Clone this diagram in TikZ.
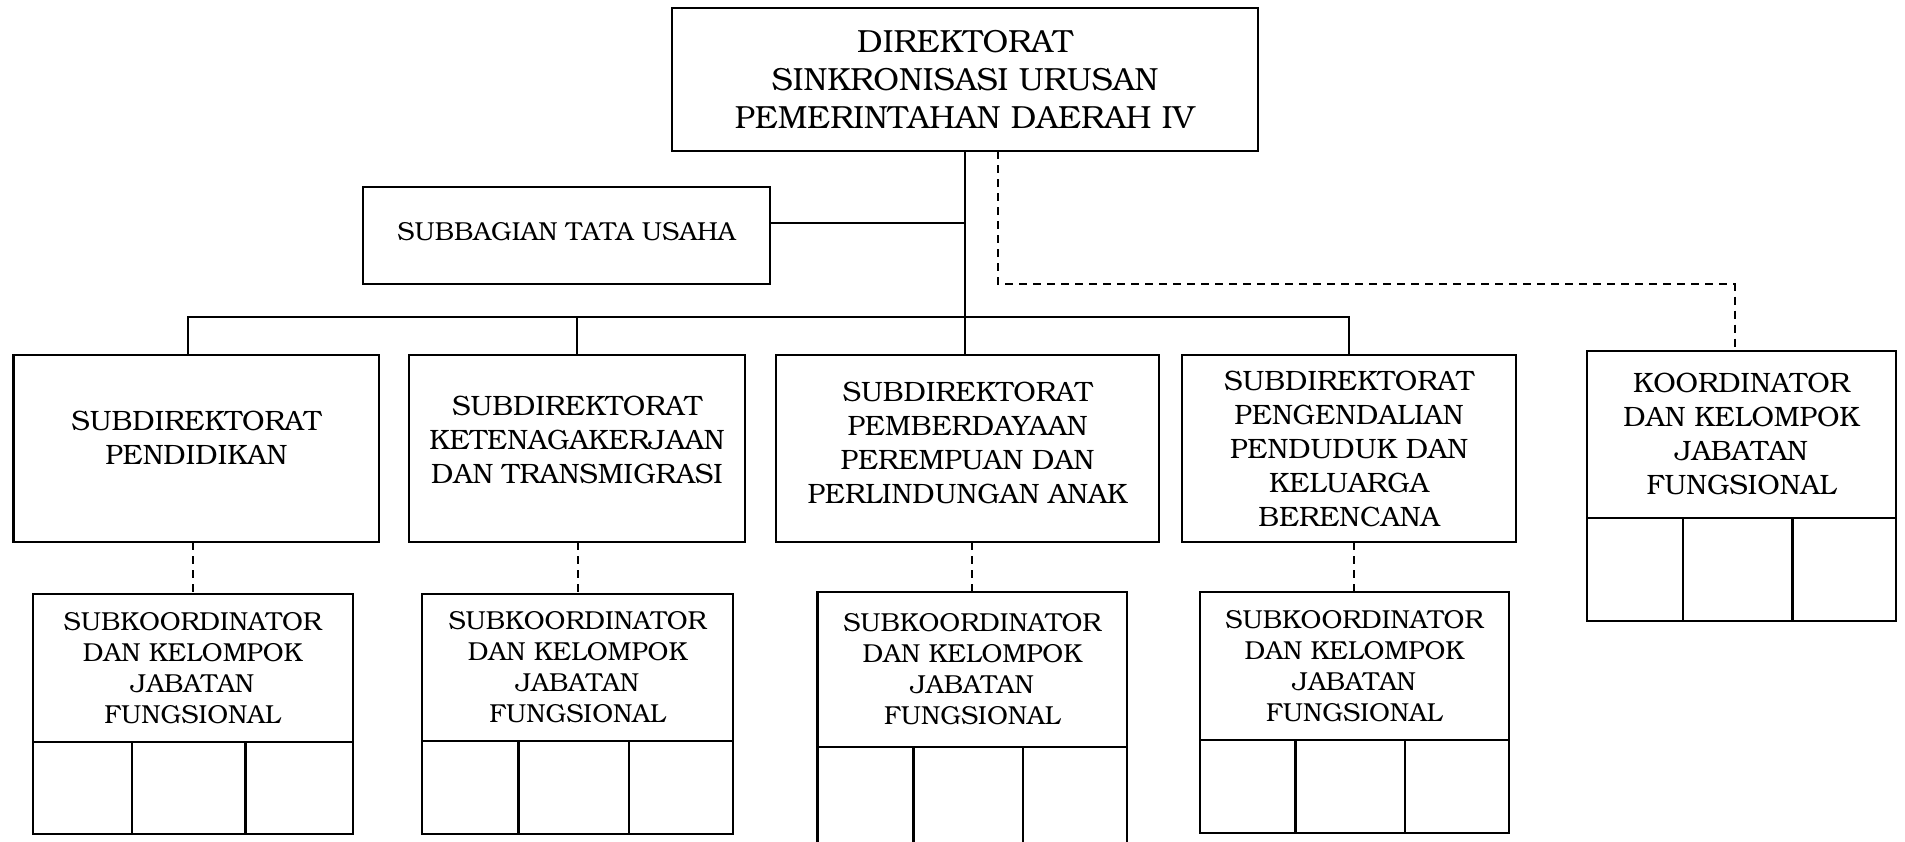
\documentclass[tikz,border=0pt]{standalone}
\usepackage[T1]{fontenc}
\usepackage{bookman}
\usetikzlibrary{positioning, calc}

\tikzset{
  orgbox/.style={draw, line width=1.1pt, outer sep=0pt, inner sep=2pt, align=center},
  sdbox/.style={orgbox, minimum height=93.5pt, font=\fontsize{14}{17}\selectfont},
  cellbox/.style={draw, line width=1.1pt, outer sep=0pt, inner sep=0pt},
  link/.style={line width=1pt},
  dlink/.style={line width=1pt, dash pattern=on 4pt off 3pt},
}

\begin{document}
\begin{tikzpicture}[x=0.5pt, y=-0.5pt]
  \useasboundingbox (0,0) rectangle (1905,841);

  % --- Direktorat ---
  \node[orgbox, minimum width=293pt, minimum height=71.5pt, font=\fontsize{16}{19}\selectfont] (dir) at (965,79.5)
    {DIREKTORAT\\SINKRONISASI URUSAN\\PEMERINTAHAN DAERAH IV};

  % --- Subbagian Tata Usaha ---
  \node[orgbox, minimum width=203.5pt, minimum height=48.5pt, text depth=4pt, font=\fontsize{13}{15.5}\selectfont] (tu) at (566.5,235.5)
    {SUBBAGIAN TATA USAHA};

  % --- Subdirektorat row ---
  \node[sdbox, minimum width=182.75pt, text depth=11pt] (sd1) at (196.25,448.5) {SUBDIREKTORAT\\PENDIDIKAN};
  \node[sdbox, minimum width=168pt, text depth=8.5pt] (sd2) at (577,448.5) {SUBDIREKTORAT\\KETENAGAKERJAAN\\DAN TRANSMIGRASI};
  \node[sdbox, minimum width=191.5pt, text depth=6pt] (sd3) at (967.5,448.5) {SUBDIREKTORAT\\PEMBERDAYAAN\\PEREMPUAN DAN\\PERLINDUNGAN ANAK};
  \node[sdbox, minimum width=167pt] (sd4) at (1349,448.5) {SUBDIREKTORAT\\PENGENDALIAN\\PENDUDUK DAN\\KELUARGA\\BERENCANA};

  % --- Koordinator (right) ---
  \node[orgbox, minimum width=154.5pt, minimum height=83.3pt, font=\fontsize{14}{17}\selectfont] (ko) at (1741.5,434.3)
    {KOORDINATOR\\DAN KELOMPOK\\JABATAN\\FUNGSIONAL};
  \node[cellbox, minimum width=0.31*154.5pt, minimum height=51.8pt, anchor=north west] (koa) at (ko.south west) {};
  \node[cellbox, minimum width=0.355*154.5pt, minimum height=51.8pt, anchor=north west] (kob) at (koa.north east) {};
  \node[cellbox, minimum width=0.335*154.5pt, minimum height=51.8pt, anchor=north west] (koc) at (kob.north east) {};

  % --- Subkoordinator boxes: x, top y, width, text height, cell height ---
  \foreach \x/\y/\w/\h/\c/\name in {
      192.6/594/320/148/92/sk1,
      577.5/594/311/147/93/sk2,
      972.25/591.7/309.5/155/103/sk3,
      1354.3/591.7/309.4/148.3/93.3/sk4%
  } {
    \node[orgbox, anchor=north, minimum width=\w*0.5pt, minimum height=\h*0.5pt,
          font=\fontsize{13}{15.5}\selectfont] (\name) at (\x,\y)
      {SUBKOORDINATOR\\DAN KELOMPOK\\JABATAN\\FUNGSIONAL};
    \node[cellbox, minimum width=0.31*\w*0.5pt, minimum height=\c*0.5pt, anchor=north west] (\name a) at (\name.south west) {};
    \node[cellbox, minimum width=0.355*\w*0.5pt, minimum height=\c*0.5pt, anchor=north west] (\name b) at (\name a.north east) {};
    \node[cellbox, minimum width=0.335*\w*0.5pt, minimum height=\c*0.5pt, anchor=north west] (\name c) at (\name b.north east) {};
  }

  % --- Solid lines ---
  \coordinate (bus) at (962,317);
  \draw[link] (dir.south) -- (dir.south |- sd3.north);
  \draw[link] ([yshift=6.4pt]tu.east) -- ([yshift=6.4pt]tu.east -| dir.south);
  \draw[link] ([xshift=-4pt]sd1.north) |- (bus -| sd4.north) -- (sd4.north);
  \draw[link] (sd2.north) -- (sd2.north |- bus);

  % --- Dashed lines ---
  \coordinate (dtop) at ([xshift=16.5pt]dir.south);
  \coordinate (dlev) at (0,284);
  \draw[dlink] (dtop) |- ([xshift=-3.5pt]ko.north |- dlev) -- ([xshift=-3.5pt]ko.north);
  \foreach \i in {1,...,4}
    \draw[dlink] (sk\i.north |- sd\i.south) -- (sk\i.north);

\end{tikzpicture}
\end{document}
